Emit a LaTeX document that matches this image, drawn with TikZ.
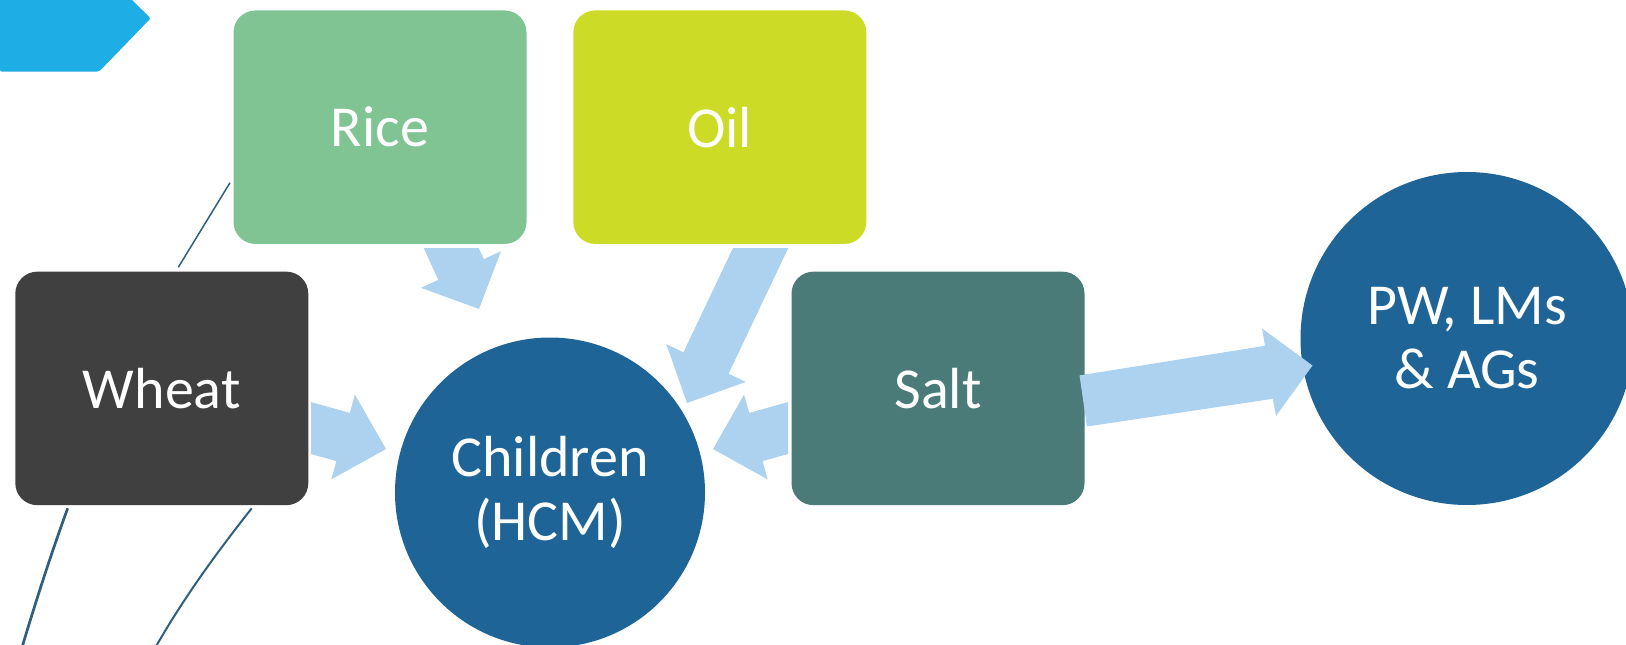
\documentclass[tikz,border=0pt]{standalone}
\usepackage{fontspec}
\setmainfont{Carlito}
\definecolor{ricec}{RGB}{128,196,148}
\definecolor{oilc}{RGB}{204,219,38}
\definecolor{wheatc}{RGB}{64,64,64}
\definecolor{saltc}{RGB}{74,123,120}
\definecolor{circc}{RGB}{31,100,151}
\definecolor{arrc}{RGB}{172,210,239}
\definecolor{tabc}{RGB}{30,174,229}
\definecolor{linec}{RGB}{47,95,127}
\begin{document}
\begin{tikzpicture}[x=1pt,y=-1pt,
  box/.style={rectangle, rounded corners=22pt, minimum width=293pt, minimum height=233.5pt,
    inner sep=0pt, text=white, font=\fontsize{58}{64}\selectfont},
  circ/.style={circle, fill=circc, inner sep=0pt, text=white, align=center,
    font=\fontsize{58}{64}\selectfont},
  blockarrow/.style={fill=arrc, draw=none},
  deco/.style={draw=linec, line cap=butt}]
\useasboundingbox (0,0) rectangle (1626,645);
% decorative background lines
\coordinate (la1) at (67.7,508.3);
\coordinate (la2) at (19.7,655);
\coordinate (lb1) at (251.7,508.3);
\coordinate (lb2) at (151.1,655);
\coordinate (lc1) at (230,182.7);
\coordinate (lc2) at (178.3,267.3);
\draw[deco, line width=2.7pt] (la1) .. controls (51.2,553.3) and (36.2,600) .. (la2);
\draw[deco, line width=2pt] (lb1) .. controls (216.2,553.3) and (181.9,600) .. (lb2);
\draw[deco, line width=1.5pt] (lc1) -- (lc2);
% top-left tab
\fill[tabc, rounded corners=2pt] (0,-4) -- (128,-4) -- (150.7,18.3) -- (99,71.7) -- (0,71.7) -- cycle;
% block arrows behind boxes
\fill[blockarrow] (423.7,248) -- (438.25,279.9) -- (421,287.8) -- (479,309) -- (501,251.2) -- (483.75,259.1) -- (478.7,248) -- cycle;
\fill[blockarrow] (733,248) -- (683.4,352.3) -- (666.3,344.1) -- (687,403) -- (745.7,381.9) -- (728.6,373.7) -- (788.3,248) -- cycle;
\fill[blockarrow] (311,402.1) -- (349.8,412.9) -- (354.9,394.6) -- (386,449) -- (331.3,479.4) -- (336.4,461.1) -- (311,454) -- cycle;
\fill[blockarrow] (788,402.1) -- (749.2,412.9) -- (744.1,394.6) -- (713,449) -- (767.7,479.4) -- (762.6,461.1) -- (788,454) -- cycle;
% boxes
\node[box, fill=ricec]  (rice)  at (380,127.2) {Rice};
\node[box, fill=oilc]   (oil)   at (719.8,127.2) {Oil};
\node[box, fill=wheatc] (wheat) at (161.8,388.4) {Wheat};
\node[box, fill=saltc]  (salt)  at (938,388.4) {Salt};
% circles
\node[circ, minimum size=310pt] (children) at (550,492.5) {Children\\(HCM)};
\node[circ, minimum size=333pt] (pw) at (1467,338.5) {PW, LMs\\\& AGs};
% arrow salt -> pw
\fill[blockarrow] (1079.5,375.4) -- (1265,345.8) -- (1262,328.5) -- (1312.5,365.5) -- (1276,416) -- (1272.8,398.8) -- (1087,426.5) -- cycle;
\end{tikzpicture}
\end{document}
